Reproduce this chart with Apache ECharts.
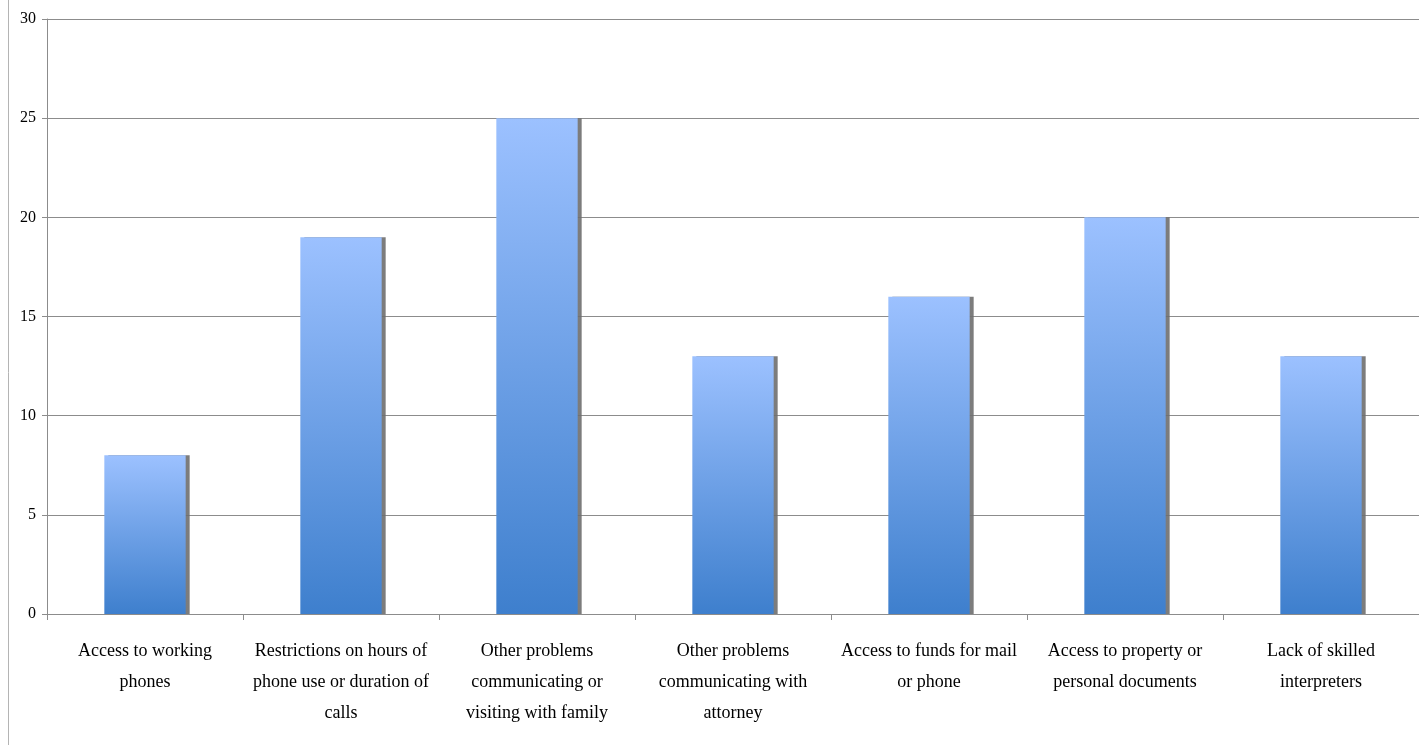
<!DOCTYPE html>
<html><head><meta charset="utf-8">
<script src="https://cdn.jsdelivr.net/npm/echarts@6/dist/echarts.min.js"></script>
<style>html,body{margin:0;padding:0;background:#fff}#c{width:1419px;height:745px}</style>
</head><body><div id="c"></div>
<script>
const categories = [
  "Access to working\nphones",
  "Restrictions on hours of\nphone use or duration of\ncalls",
  "Other problems\ncommunicating or\nvisiting with family",
  "Other problems\ncommunicating with\nattorney",
  "Access to funds for mail\nor phone",
  "Access to property or\npersonal documents",
  "Lack of skilled\ninterpreters"
];
const values = [8, 19, 25, 13, 16, 20, 13];
const yMin = 0, yMax = 30, yStep = 5;

const chart = echarts.init(document.getElementById('c'));
chart.setOption({
  animation: false,
  backgroundColor: '#fff',
  grid: { left: 47, right: 0, top: 19, bottom: 131 },
  graphic: [{ type: 'line', shape: { x1: 8.5, y1: 0, x2: 8.5, y2: 745 }, style: { stroke: '#b4b4b4', lineWidth: 1 } }],
  xAxis: {
    type: 'category', data: categories,
    axisLine: { lineStyle: { color: '#8c8c8c' } },
    axisTick: { show: true, length: 6, lineStyle: { color: '#8c8c8c' } },
    axisLabel: { fontFamily: 'Liberation Serif', fontSize: 18, color: '#000', lineHeight: 31, margin: 22, interval: 0 }
  },
  yAxis: {
    type: 'value', min: yMin, max: yMax, interval: yStep,
    axisLine: { show: true, lineStyle: { color: '#8c8c8c' } },
    axisTick: { show: true, length: 5, lineStyle: { color: '#8c8c8c' } },
    splitLine: { lineStyle: { color: '#8c8c8c' } },
    axisLabel: { fontFamily: 'Liberation Serif', fontSize: 16, color: '#000', margin: 11 }
  },
  series: [{
    type: 'bar', data: values, barWidth: '41.5%',
    itemStyle: {
      color: new echarts.graphic.LinearGradient(0, 0, 0, 1, [
        { offset: 0, color: '#9cc1ff' },
        { offset: 1, color: '#3e7fcd' }
      ]),
      shadowColor: 'rgba(110,110,110,0.9)', shadowOffsetX: 4, shadowOffsetY: 0, shadowBlur: 0
    }
  }]
});
</script></body></html>
